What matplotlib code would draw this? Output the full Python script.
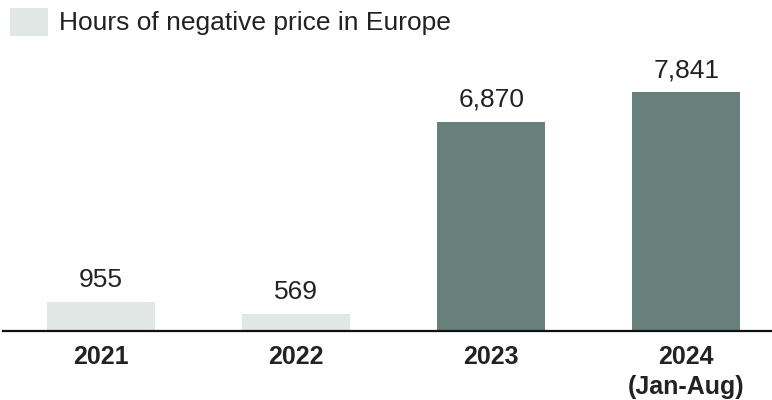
import matplotlib
matplotlib.use('Agg')
import matplotlib.pyplot as plt
from matplotlib.patches import Rectangle

plt.rcParams['font.family'] = ['Liberation Sans', 'DejaVu Sans']

years = ['2021', '2022', '2023', '2024\n(Jan-Aug)']
hours = [955, 569, 6870, 7841]
light = '#e1e7e5'
dark = '#687f7b'
colors = [light, light, dark, dark]
text_col = '#222222'

W, H = 772, 400
fig = plt.figure(figsize=(W / 100, H / 100), dpi=100)
ax = fig.add_axes([3 / W, 69 / H, 769 / W, (331 - 60) / H])

x = list(range(len(years)))
bars = ax.bar(x, hours, width=0.555, color=colors)
ax.bar_label(bars, labels=['{:,}'.format(v) for v in hours], padding=7,
             fontsize=19, color=text_col)

ax.set_xlim(-0.503, 3.44)
ax.set_ylim(0, 7841 * (331 - 60) / 239)
ax.set_xticks(x)
ax.set_xticklabels(years, fontsize=18, fontweight='bold', color=text_col,
                   linespacing=1.3)
ax.tick_params(axis='x', length=0, pad=10)
ax.set_yticks([])
for s in ['top', 'left', 'right']:
    ax.spines[s].set_visible(False)
ax.spines['bottom'].set_linewidth(1.6)
ax.spines['bottom'].set_color('#111111')

# legend swatch and label
fig.add_artist(Rectangle((10 / W, 1 - 36 / H), 38 / W, 28 / H,
                         transform=fig.transFigure, color=light, lw=0))
fig.text(59 / W, 1 - 23 / H, 'Hours of negative price in Europe',
         fontsize=19, color=text_col, va='center', ha='left')

fig.savefig('out.png', dpi=100)
